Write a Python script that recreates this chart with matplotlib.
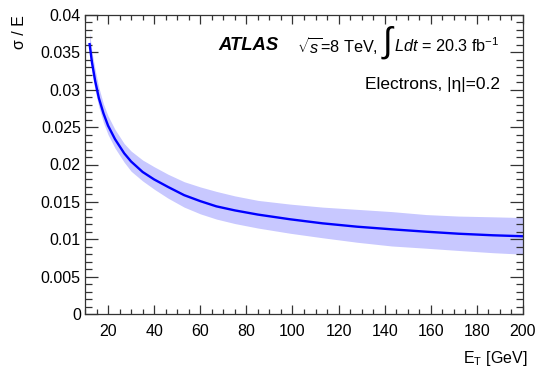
import matplotlib
matplotlib.use("Agg")
import matplotlib.pyplot as plt
from matplotlib.ticker import MultipleLocator, FuncFormatter

plt.rcParams['font.family'] = ['Liberation Sans', 'DejaVu Sans']
plt.rcParams['mathtext.fontset'] = 'custom'
plt.rcParams['mathtext.rm'] = 'Liberation Sans'
plt.rcParams['mathtext.it'] = 'Liberation Sans:italic'
plt.rcParams['mathtext.bf'] = 'Liberation Sans:bold'

# Data
et = [12, 13, 14.4, 16, 18, 20, 23, 27, 30, 35, 40, 46, 53, 60, 67, 75, 85, 99, 113, 128, 143,
      158, 172, 187, 200]
resolution = [0.0361, 0.0337, 0.0312, 0.0289, 0.02685, 0.0252, 0.0234, 0.0215, 0.0204, 0.0190,
              0.0180, 0.0170, 0.0159, 0.0151, 0.0144, 0.01386, 0.0133, 0.01267, 0.01213, 0.01168,
              0.01133, 0.01101, 0.01074, 0.01053, 0.0104]
band_upper = [0.0377, 0.0351, 0.0327, 0.0303, 0.0281, 0.0265, 0.0247, 0.0228, 0.0218, 0.0206,
              0.0197, 0.0187, 0.0177, 0.0170, 0.0164, 0.0158, 0.0152, 0.0147, 0.0143, 0.0140,
              0.0137, 0.0133, 0.0131, 0.0130, 0.0129]
band_lower = [0.0348, 0.0323, 0.0299, 0.0277, 0.0256, 0.0240, 0.0222, 0.0203, 0.0191, 0.0178,
              0.0167, 0.0155, 0.0143, 0.0134, 0.0127, 0.0121, 0.0115, 0.0108, 0.0102, 0.0096,
              0.0091, 0.0088, 0.0085, 0.0082, 0.0080]

x_ticks = [20, 40, 60, 80, 100, 120, 140, 160, 180, 200]
y_ticks = [0, 0.005, 0.01, 0.015, 0.02, 0.025, 0.03, 0.035, 0.04]

W, H = 538, 374
fig = plt.figure(figsize=(W / 100, H / 100), dpi=100)
ax = fig.add_axes([85 / W, (H - 314) / H, (523 - 85) / W, (314 - 15) / H])

ax.fill_between(et, band_lower, band_upper, color='#c8c8ff', linewidth=0)
ax.plot(et, resolution, color='#0000ff', lw=1.7, solid_joinstyle='round')

ax.set_xlim(10, 200)
ax.set_ylim(0, 0.04)
ax.set_xticks(x_ticks)
ax.set_yticks(y_ticks)
ax.xaxis.set_minor_locator(MultipleLocator(5))
ax.yaxis.set_minor_locator(MultipleLocator(0.001))

def yfmt(v, pos):
    if abs(v) < 1e-12:
        return '0'
    return ('%.3f' % v).rstrip('0')
ax.yaxis.set_major_formatter(FuncFormatter(yfmt))

ax.tick_params(which='both', direction='in', top=True, right=True, colors='#333333',
               labelcolor='black', labelsize=11.5, width=0.9)
ax.tick_params(axis='y', which='major', length=9.5, pad=3)
ax.tick_params(axis='y', which='minor', length=5)
ax.tick_params(axis='x', which='major', length=6.5, pad=7)
ax.tick_params(axis='x', which='minor', length=3.6)
for s in ax.spines.values():
    s.set_color('#333333')
    s.set_linewidth(0.9)

fig.text(20 / W, 1 - 15 / H, 'σ / E', rotation=90, ha='center', va='top', fontsize=11.5)
fig.text(527 / W, 1 - 358 / H, r'E$_{\mathrm{T}}$ [GeV]', ha='right', va='center', fontsize=11.5)

fig.text(218 / W, 1 - 46 / H, 'ATLAS', fontsize=13.3, fontweight='bold', fontstyle='italic',
         ha='left', va='center')
fig.text(297 / W, 1 - 46 / H, r'$\sqrt{s}$=8 TeV,', fontsize=11.7, ha='left', va='center')
fig.text(381 / W, 1 - 43 / H, r'$\int$', fontsize=25, ha='left', va='center')
fig.text(394 / W, 1 - 46 / H, r'$L$$dt$ = 20.3 fb$^{-1}$', fontsize=11.7, ha='left', va='center')
fig.text(500 / W, 1 - 85 / H, 'Electrons, |η|=0.2', fontsize=12.5, ha='right', va='center')

fig.savefig('out.png', dpi=100)
